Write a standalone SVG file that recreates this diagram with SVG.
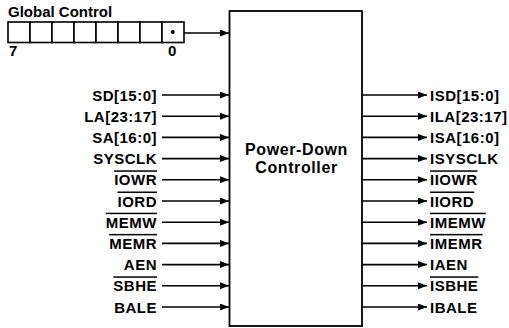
<svg xmlns="http://www.w3.org/2000/svg" width="509" height="328" viewBox="0 0 509 328">
<style>
  text { font-family: "Liberation Sans", Arial, sans-serif; font-weight: bold; fill: #000; }
  .lbl { font-size: 15px; letter-spacing: 0.5px; }
  .l { text-anchor: end; }
  .ov { text-decoration: overline; }
  .title { font-size: 15px; }
  .big { font-size: 16px; text-anchor: middle; letter-spacing: 0.6px; }
  .cell { fill: #fff; stroke: #000; stroke-width: 1.6; }
  .wire { stroke: #000; stroke-width: 1.6; fill: none; marker-end: url(#ah); }
  .box { fill: #fff; stroke: #000; stroke-width: 1.8; }
</style>
<defs>
  <marker id="ah" markerUnits="userSpaceOnUse" markerWidth="10" markerHeight="8" refX="9" refY="3.5" orient="auto">
    <path d="M0,0 L9,3.5 L0,7 z" fill="#000"/>
  </marker>
</defs>
<rect width="509" height="328" fill="#fff"/>

<g id="global-control">
  <text class="title" x="8" y="17">Global Control</text>
  <rect class="cell" x="8" y="22" width="22" height="20.5"/>
  <rect class="cell" x="30" y="22" width="22" height="20.5"/>
  <rect class="cell" x="52" y="22" width="22" height="20.5"/>
  <rect class="cell" x="74" y="22" width="22" height="20.5"/>
  <rect class="cell" x="96" y="22" width="22" height="20.5"/>
  <rect class="cell" x="118" y="22" width="22" height="20.5"/>
  <rect class="cell" x="140" y="22" width="22" height="20.5"/>
  <rect class="cell" x="162" y="22" width="22" height="20.5"/>
  <circle cx="172.8" cy="32" r="2" fill="#000"/>
  <text class="title" x="9" y="56">7</text>
  <text class="title" x="168" y="56">0</text>
</g>

<g id="controller">
  <rect class="box" x="229.5" y="11" width="132.5" height="315"/>
  <text class="big" x="296.5" y="155">Power-Down</text>
  <text class="big" x="296.5" y="173">Controller</text>
</g>

<g id="connectors">
  <path class="wire" d="M184,33 H229"/>
  <path class="wire" d="M162,95 H229"/>
  <path class="wire" d="M162,116.2 H229"/>
  <path class="wire" d="M162,137.4 H229"/>
  <path class="wire" d="M162,158.6 H229"/>
  <path class="wire" d="M162,179.8 H229"/>
  <path class="wire" d="M162,201 H229"/>
  <path class="wire" d="M162,222.2 H229"/>
  <path class="wire" d="M162,243.4 H229"/>
  <path class="wire" d="M162,264.6 H229"/>
  <path class="wire" d="M162,285.8 H229"/>
  <path class="wire" d="M162,307 H229"/>
  <path class="wire" d="M362,95 H427"/>
  <path class="wire" d="M362,116.2 H427"/>
  <path class="wire" d="M362,137.4 H427"/>
  <path class="wire" d="M362,158.6 H427"/>
  <path class="wire" d="M362,179.8 H427"/>
  <path class="wire" d="M362,201 H427"/>
  <path class="wire" d="M362,222.2 H427"/>
  <path class="wire" d="M362,243.4 H427"/>
  <path class="wire" d="M362,264.6 H427"/>
  <path class="wire" d="M362,285.8 H427"/>
  <path class="wire" d="M362,307 H427"/>
</g>

<g id="inputs">
  <text class="lbl l" x="157" y="100.5">SD[15:0]</text>
  <text class="lbl l" x="157" y="121.7">LA[23:17]</text>
  <text class="lbl l" x="157" y="142.9">SA[16:0]</text>
  <text class="lbl l" x="157" y="164.1">SYSCLK</text>
  <text class="lbl l ov" x="157" y="185.3">IOWR</text>
  <text class="lbl l ov" x="157" y="206.5">IORD</text>
  <text class="lbl l ov" x="157" y="227.7">MEMW</text>
  <text class="lbl l ov" x="157" y="248.9">MEMR</text>
  <text class="lbl l" x="157" y="270.1">AEN</text>
  <text class="lbl l ov" x="157" y="291.3">SBHE</text>
  <text class="lbl l" x="157" y="312.5">BALE</text>
</g>

<g id="outputs">
  <text class="lbl" x="430" y="100.5">ISD[15:0]</text>
  <text class="lbl" x="430" y="121.7">ILA[23:17]</text>
  <text class="lbl" x="430" y="142.9">ISA[16:0]</text>
  <text class="lbl" x="430" y="164.1">ISYSCLK</text>
  <text class="lbl ov" x="430" y="185.3">IIOWR</text>
  <text class="lbl ov" x="430" y="206.5">IIORD</text>
  <text class="lbl ov" x="430" y="227.7">IMEMW</text>
  <text class="lbl ov" x="430" y="248.9">IMEMR</text>
  <text class="lbl" x="430" y="270.1">IAEN</text>
  <text class="lbl ov" x="430" y="291.3">ISBHE</text>
  <text class="lbl" x="430" y="312.5">IBALE</text>
</g>
</svg>
